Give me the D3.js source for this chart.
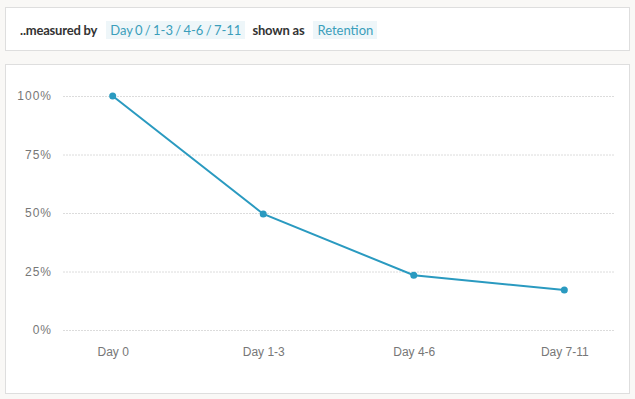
<!DOCTYPE html>
<html>
<head>
<meta charset="utf-8">
<script src="https://cdn.jsdelivr.net/npm/d3@7"></script>
<style>
    body { margin: 0; background: #f9f8f6; font-family: Lato, "Open Sans", sans-serif; }
    #wrap { position: relative; width: 635px; height: 399px; }
    .panel { position: absolute; background: #fff; border: 1px solid #dedede; box-sizing: border-box; }
    #top { left: 5px; top: 7px; width: 625px; height: 44px; }
    #chart { left: 5px; top: 64px; width: 625px; height: 330px; }
    .bar { position: absolute; top: 13px; left: 14px; font-size: 13px; color: #333; display: flex; align-items: center; white-space: nowrap; }
    .bar b { font-weight: 700; letter-spacing: -0.2px; }
    .chip { background: #eef6f9; color: #3a9ebb; padding: 1px 4px; margin: 0 7px 0 9px; word-spacing: -1px; }
    .grid line { stroke: #dcdcdc; stroke-dasharray: 2,1; }
    .tick text { fill: #777; font-size: 12px; }
    .grid .tick text { letter-spacing: 1px; }
</style>
</head>
<body>
<div id="wrap">
    <div class="panel" id="top">
        <div class="bar"><b>..measured by</b><span class="chip">Day 0 / 1-3 / 4-6 / 7-11</span><b>shown as</b><span class="chip">Retention</span></div>
    </div>
    <div class="panel" id="chart"></div>
</div>
<script>
//Datos
const categorias = ['Day 0', 'Day 1-3', 'Day 4-6', 'Day 7-11'];
const retencion = [100, 49.6, 23.4, 17.1];
const ticksY = [0, 25, 50, 75, 100];

const COLOR_LINE = '#2a9ac0';

let margin = {top: 31, right: 16, bottom: 0, left: 58};
let w = 625, h = 330;

let svg = d3.select('#chart').append('svg')
    .attr('width', w).attr('height', h)
    .style('position', 'absolute').style('left', '-1px').style('top', '-1px');

let x = d3.scalePoint()
    .domain(categorias)
    .range([margin.left, w - margin.right])
    .padding(0.33);

let y = d3.scaleLinear()
    .domain([0, 100])
    .range([266, 32]);

//Eje Y con rejilla
svg.append('g')
    .attr('class', 'grid')
    .attr('transform', 'translate(' + margin.left + ',0)')
    .call(d3.axisLeft(y).tickValues(ticksY).tickFormat(function(d) { return d + '%'; })
        .tickSize(-(w - margin.left - margin.right)).tickPadding(11))
    .call(function(g) { g.select('.domain').remove(); });

//Eje X
svg.append('g')
    .attr('transform', 'translate(0,279)')
    .call(d3.axisBottom(x).tickSize(0).tickPadding(4))
    .call(function(g) { g.select('.domain').remove(); });

let datos = categorias.map(function(c, i) { return {cat: c, val: retencion[i]}; });

svg.append('path')
    .datum(datos)
    .attr('fill', 'none')
    .attr('stroke', COLOR_LINE)
    .attr('stroke-width', 2)
    .attr('d', d3.line().x(function(d) { return x(d.cat); }).y(function(d) { return y(d.val); }));

svg.selectAll('.punto')
    .data(datos)
    .enter()
    .append('circle')
    .attr('class', 'punto')
    .attr('cx', function(d) { return x(d.cat); })
    .attr('cy', function(d) { return y(d.val); })
    .attr('r', 3.5)
    .attr('fill', COLOR_LINE);
</script>
</body>
</html>
